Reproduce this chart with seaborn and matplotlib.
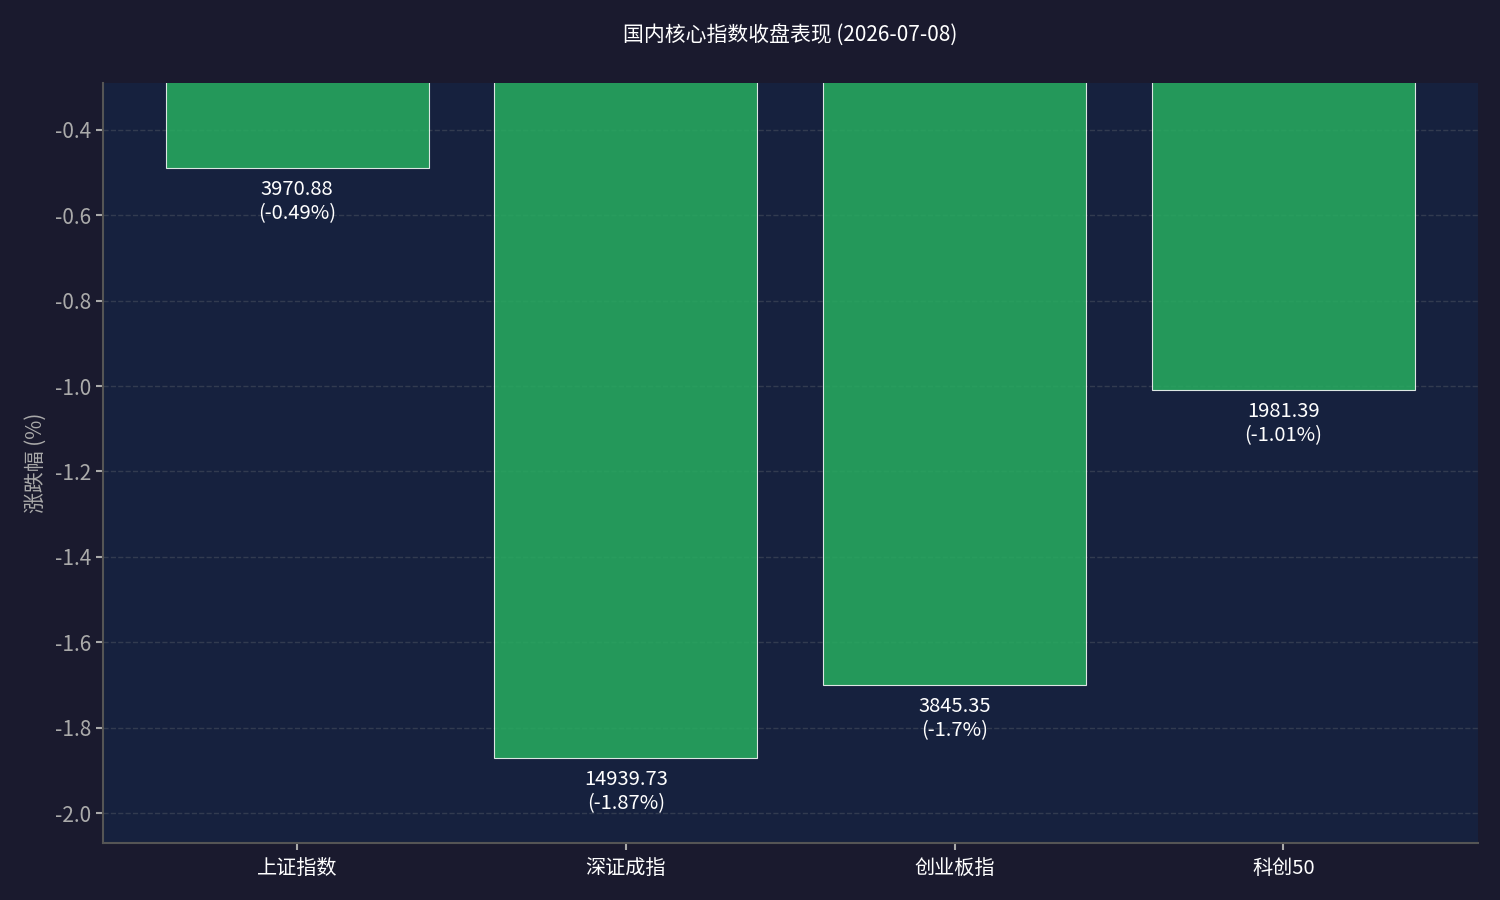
import matplotlib
matplotlib.use("Agg")
import matplotlib.pyplot as plt
import seaborn as sns
import pandas as pd

# 指数数据
indices = ['上证指数', '深证成指', '创业板指', '科创50']
closes = [3970.88, 14939.73, 3845.35, 1981.39]
changes = [-0.49, -1.87, -1.7, -1.01]
change_labels = ['-0.49%', '-1.87%', '-1.7%', '-1.01%']

df = pd.DataFrame({'指数': indices, '收盘': closes, '涨跌幅': changes})

sns.set_theme(style='dark')
plt.rcParams['font.family'] = ['Noto Sans CJK SC', 'DejaVu Sans']
plt.rcParams['axes.unicode_minus'] = False

bg_fig = '#1a1a2e'
bg_ax = '#16213e'

fig = plt.figure(figsize=(15, 9), dpi=100, facecolor=bg_fig)
ax = fig.add_axes([0.0687, 0.0633, 0.9163, 0.8447])
ax.set_facecolor(bg_ax)

sns.barplot(data=df, x='指数', y='涨跌幅', ax=ax, color='#27ae60', alpha=0.85,
            saturation=1, edgecolor='white', linewidth=0.8, width=0.8, zorder=3)

ax.set_ylim(min(changes) - 0.2, max(changes) + 0.2)
ax.set_xlim(-0.59, len(indices) - 1 + 0.59)

for i, (c, v, lab) in enumerate(zip(closes, changes, change_labels)):
    ax.annotate(f'{c}\n({lab})', xy=(i, v), xytext=(0, -8), textcoords='offset points',
                ha='center', va='top', color='white', fontsize=14.5, linespacing=1.2)

ax.grid(axis='y', linestyle='--', color='#3a4255', linewidth=1, alpha=0.8, zorder=0)
ax.set_axisbelow(True)

ax.set_title('国内核心指数收盘表现 (2026-07-08)', color='white', fontsize=15, pad=30)
ax.set_xlabel('')
ax.set_ylabel('涨跌幅 (%)', color='#aaaaaa', fontsize=15, labelpad=6)

for s in ['top', 'right']:
    ax.spines[s].set_visible(False)
for s in ['left', 'bottom']:
    ax.spines[s].set_visible(True)
    ax.spines[s].set_color('#555555')
    ax.spines[s].set_linewidth(1.5)

ax.tick_params(axis='x', colors='#aaaaaa', labelcolor='white', labelsize=14.5, length=5, width=1.5,
               bottom=True, pad=6)
ax.tick_params(axis='y', colors='#aaaaaa', labelcolor='#aaaaaa', labelsize=15, length=5, width=1.5, left=True)

fig.savefig('out.png', facecolor=bg_fig)
